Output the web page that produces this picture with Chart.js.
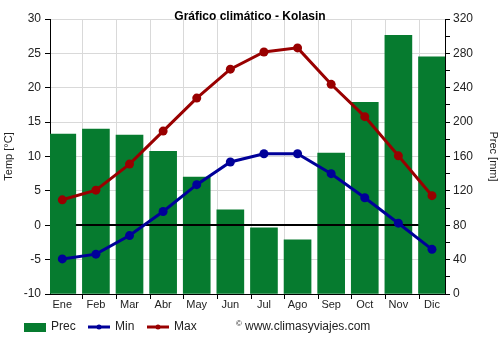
<!DOCTYPE html>
<html>
<head>
<meta charset="utf-8">
<title>Gráfico climático - Kolasin</title>
<script src="https://cdn.jsdelivr.net/npm/chart.js@4"></script>
<style>
  html, body { margin: 0; padding: 0; background: #fff; }
</style>
</head>
<body>
<canvas id="myChart" width="500" height="350"></canvas>
<script>
const months = ['Ene', 'Feb', 'Mar', 'Abr', 'May', 'Jun', 'Jul', 'Ago', 'Sep', 'Oct', 'Nov', 'Dic'];
const prec = [186, 192, 185, 166, 136, 98, 77, 63, 164, 223, 301, 276];
const tempMin = [-4.9, -4.2, -1.5, 2.0, 5.9, 9.2, 10.4, 10.4, 7.5, 4.0, 0.3, -3.5];
const tempMax = [3.7, 5.1, 8.9, 13.7, 18.5, 22.7, 25.2, 25.8, 20.5, 15.8, 10.1, 4.3];

const green = '#067b2f';
const blue = '#000099';
const red = '#990000';
const font = 'Liberation Sans, Arial, sans-serif';

// month index -> {x, y} so the x axis can be a linear scale
const toPoints = arr => arr.map((v, i) => ({ x: i, y: v }));

// title, black zero line, month grid and the legend row
const extras = {
  id: 'extras',
  beforeDatasetsDraw(chart) {
    const { ctx, chartArea: a, scales: { x } } = chart;
    ctx.save();
    ctx.strokeStyle = '#d9d9d9';
    ctx.lineWidth = 1;
    for (let i = 1; i < months.length + 1; i++) {
      const px = Math.round(x.getPixelForValue(i - 0.4)) + 0.5;
      if (px <= a.left || px >= a.right) continue;
      ctx.beginPath();
      ctx.moveTo(px, a.top);
      ctx.lineTo(px, a.bottom);
      ctx.stroke();
    }
    ctx.strokeStyle = '#000';
    for (let i = 0; i < months.length + 1; i++) {
      const px = Math.round(x.getPixelForValue(i - 0.4)) + 0.5;
      if (px < a.left || px > a.right + 1) continue;
      ctx.beginPath();
      ctx.moveTo(px, a.bottom);
      ctx.lineTo(px, a.bottom + 5);
      ctx.stroke();
    }
    ctx.restore();
  },
  afterDatasetDraw(chart, args) {
    if (args.index !== 0) return;
    const { ctx, scales: { y } } = chart;
    const bars = args.meta.data;
    const first = bars[0], last = bars[bars.length - 1];
    const py = Math.round(y.getPixelForValue(0));
    ctx.save();
    ctx.strokeStyle = '#000';
    ctx.lineWidth = 2;
    ctx.beginPath();
    ctx.moveTo(first.x + first.width / 2, py);
    ctx.lineTo(last.x - last.width / 2, py);
    ctx.stroke();
    ctx.restore();
  },
  afterDraw(chart) {
    const { ctx } = chart;
    ctx.save();
    ctx.fillStyle = '#000';
    ctx.font = 'bold 12px ' + font;
    ctx.textAlign = 'center';
    ctx.textBaseline = 'middle';
    ctx.fillText('Gráfico climático - Kolasin', 250, 17);

    const ly = 327;
    ctx.font = '12px ' + font;
    ctx.textAlign = 'left';
    ctx.fillStyle = green;
    ctx.fillRect(24, ly - 4, 22, 9);
    ctx.fillStyle = '#222';
    ctx.fillText('Prec', 51, ly);

    [[blue, 'Min', 88], [red, 'Max', 147]].forEach(([c, t, lx]) => {
      ctx.strokeStyle = c;
      ctx.lineWidth = 3;
      ctx.beginPath();
      ctx.moveTo(lx, ly);
      ctx.lineTo(lx + 22, ly);
      ctx.stroke();
      ctx.fillStyle = c;
      ctx.beginPath();
      ctx.arc(lx + 11, ly, 2.5, 0, Math.PI * 2);
      ctx.fill();
      ctx.fillStyle = '#222';
      ctx.fillText(t, lx + 27, ly);
    });

    ctx.font = '8px ' + font;
    ctx.fillText('©', 236, ly - 3);
    ctx.font = '12px ' + font;
    ctx.fillText('www.climasyviajes.com', 245, ly);
    ctx.restore();
  }
};

const ctx = document.getElementById('myChart');

const lineStyle = c => ({
  type: 'line',
  yAxisID: 'y',
  borderColor: c,
  backgroundColor: c,
  borderWidth: 3,
  pointRadius: 4.5,
  pointHoverRadius: 4.5,
  pointBorderWidth: 0,
  tension: 0
});

new Chart(ctx, {
  type: 'bar',
  data: {
    datasets: [
      {
        label: 'Prec',
        data: toPoints(prec),
        yAxisID: 'y1',
        backgroundColor: green,
        barThickness: 27,
        order: 3
      },
      { ...lineStyle(blue), label: 'Min', data: toPoints(tempMin), order: 1 },
      { ...lineStyle(red), label: 'Max', data: toPoints(tempMax), order: 2 }
    ]
  },
  options: {
    responsive: false,
    animation: false,
    devicePixelRatio: 1,
    layout: { padding: { top: 19, left: 0, right: 0, bottom: 0 } },
    plugins: {
      legend: { display: false },
      title: { display: false },
      tooltip: { enabled: false }
    },
    scales: {
      x: {
        type: 'linear',
        offset: false,
        min: -0.366,
        max: 11.387,
        grid: { display: false, drawTicks: false },
        border: { display: true, color: '#000', width: 1 },
        ticks: {
          stepSize: 1,
          includeBounds: false,
          autoSkip: false,
          maxRotation: 0,
          padding: 4,
          color: '#222',
          font: { family: font, size: 11 },
          callback: v => Number.isInteger(v) ? months[v] : ''
        },
        afterFit: s => { s.height = 56; }
      },
      y: {
        position: 'left',
        min: -10,
        max: 30,
        grid: { color: '#d9d9d9', tickColor: '#000', tickLength: 5 },
        border: { display: true, color: '#000', width: 1 },
        ticks: {
          stepSize: 5,
          padding: 4,
          color: '#222',
          font: { family: font, size: 12 }
        },
        title: {
          display: true,
          text: 'Temp [°C]',
          color: '#222',
          font: { family: font, size: 11 },
          padding: { top: 2, bottom: 0 }
        },
        afterFit: s => { s.width = 50; }
      },
      y1: {
        position: 'right',
        min: 0,
        max: 320,
        grid: { drawOnChartArea: false, color: '#000', tickLength: 5 },
        border: { display: true, color: '#000', width: 1 },
        ticks: {
          stepSize: 20,
          autoSkip: false,
          padding: 3,
          color: '#222',
          font: { family: font, size: 12 },
          callback: v => v % 40 === 0 ? v : ''
        },
        title: {
          display: true,
          text: 'Prec [mm]',
          color: '#222',
          font: { family: font, size: 11 },
          padding: { top: 0, bottom: 2 }
        },
        afterFit: s => { s.width = 55; }
      }
    }
  },
  plugins: [extras]
});
</script>
</body>
</html>
